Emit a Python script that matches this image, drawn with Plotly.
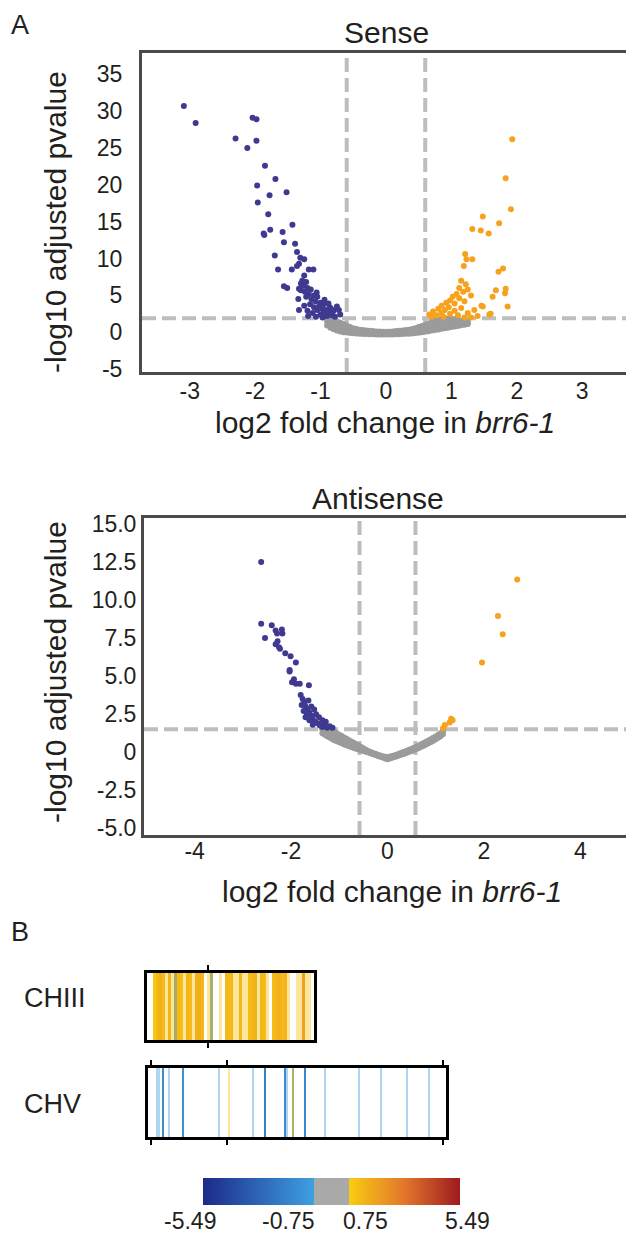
import plotly.graph_objects as go

W, H = 634, 1241
OFF = 8  # the page body adds an 8px offset

# ---------------- Sense volcano data ----------------
sense_blue_x = [-3.09, -2.91, -2.04, -1.98, -2.30, -1.98, -2.12, -1.85, -1.69, -1.97, -1.52, -1.78, -1.96, -1.80,
                -1.43, -1.77, -1.87, -1.86, -1.58, -1.56, -1.39, -1.70, -1.36, -1.31, -1.25, -1.33, -1.36, -1.44,
                -1.65, -1.18, -1.11, -1.25, -1.56, -1.51, -1.33, -1.30, -1.34, -1.33, -1.19,
                -1.28, -1.22, -1.26, -1.20, -1.24, -1.15, -1.18, -1.10, -1.22, -1.14, -1.05, -1.08, -1.00, -1.16,
                -1.02, -0.95, -1.10, -0.98, -0.92, -1.05, -0.88, -0.95, -0.85, -1.00, -0.90, -0.82, -0.80, -0.86,
                -0.78, -1.12, -1.25, -1.20, -0.94, -0.88, -0.84, -1.07, -1.30, -1.06, -0.97, -0.72, -0.70, -0.75]
sense_blue_y = [30.7, 28.4, 29.1, 28.9, 26.3, 26.0, 25.0, 22.6, 20.8, 19.9, 19.0, 18.6, 17.6, 16.0,
                14.6, 13.9, 13.4, 13.2, 13.6, 12.2, 12.0, 10.4, 10.9, 10.1, 9.9, 9.3, 9.0, 8.5,
                8.5, 8.5, 8.5, 7.7, 6.25, 6.0, 5.9, 5.7, 4.5, 3.0, 2.2,
                7.0, 6.8, 6.3, 6.0, 5.5, 5.8, 5.2, 5.0, 4.8, 4.5, 4.8, 4.2, 4.0, 3.8,
                3.6, 3.8, 3.4, 3.2, 3.0, 3.0, 2.8, 2.6, 2.5, 2.4, 2.2, 2.3, 2.9, 3.4,
                2.1, 2.6, 3.6, 2.9, 4.4, 3.9, 3.2, 2.1, 6.6, 5.4, 2.0, 3.0, 2.4, 3.5]

sense_orange_x = [1.93, 1.83, 1.91, 1.73, 1.48, 1.32, 1.45, 1.57, 1.21, 1.23, 1.32, 1.19, 1.79, 1.72, 1.68,
                  1.83, 1.82, 1.63, 1.86, 1.48, 1.60, 1.58, 1.46,
                  1.15, 1.22, 1.12, 1.25, 1.18, 1.08, 1.30, 1.02, 1.12, 0.98, 1.20, 0.92, 1.05, 0.85, 0.96,
                  1.15, 0.80, 0.90, 1.05, 0.72, 0.85, 0.98, 0.66, 0.78, 1.10, 0.70, 1.25, 1.35, 1.40, 1.30,
                  1.20, 0.88]
sense_orange_y = [26.2, 20.9, 16.7, 14.8, 15.7, 14.0, 13.8, 13.4, 10.6, 9.9, 9.9, 9.0, 8.65, 8.2, 5.7,
                  5.9, 5.3, 4.8, 3.5, 3.5, 2.5, 2.4, 3.6,
                  7.0, 6.5, 6.0, 5.8, 5.5, 5.2, 5.0, 4.8, 4.6, 4.3, 4.2, 4.0, 3.9, 3.6, 3.4,
                  3.3, 3.2, 3.0, 2.9, 2.8, 2.6, 2.5, 2.4, 2.3, 2.3, 2.1, 2.6, 3.0, 2.2, 2.0,
                  2.0, 2.1]

sense_gray_x = [-0.90, -0.85, -0.80, -0.75, -0.70, -0.65, -0.60, -0.55, -0.50, -0.45, -0.40, -0.35, -0.30,
                -0.25, -0.20, -0.15, -0.10, -0.05, 0.00, 0.05, 0.10, 0.15, 0.20, 0.25, 0.30, 0.35, 0.40,
                0.45, 0.50, 0.55, 0.60, 0.65, 0.70, 0.75, 0.80, 0.85, 0.90, 0.95, 1.00, 1.05, 1.10, 1.15,
                1.20, 1.25]
sense_gray_low = [0.9, 0.6, 0.4, 0.25, 0.1, 0.0, -0.05, -0.1, -0.15, -0.18, -0.2, -0.23, -0.25,
                  -0.27, -0.28, -0.3, -0.3, -0.3, -0.3, -0.3, -0.3, -0.28, -0.27, -0.25, -0.22, -0.2, -0.17,
                  -0.12, -0.06, 0.0, 0.06, 0.14, 0.22, 0.3, 0.38, 0.46, 0.54, 0.62, 0.7, 0.78, 0.86, 0.94,
                  1.0, 1.1]
sense_gray_mid = [1.4, 1.2, 1.05, 0.9, 0.7, 0.55, 0.45, 0.3, 0.2, 0.13, 0.08, 0.03, 0.0,
                  -0.03, -0.06, -0.1, -0.1, -0.12, -0.12, -0.12, -0.1, -0.07, -0.03, 0.0, 0.04, 0.07, 0.14,
                  0.22, 0.32, 0.42, 0.52, 0.65, 0.78, 0.92, 1.02, 1.12, 1.18, 1.22, 1.25, 1.28, 1.3, 1.3,
                  1.3, 1.25]
sense_gray_high = [1.9, 1.8, 1.7, 1.5, 1.3, 1.1, 0.9, 0.7, 0.55, 0.45, 0.35, 0.3, 0.25,
                   0.2, 0.15, 0.1, 0.1, 0.05, 0.05, 0.05, 0.1, 0.15, 0.2, 0.25, 0.3, 0.35, 0.45,
                   0.55, 0.7, 0.85, 1.0, 1.2, 1.4, 1.6, 1.7, 1.8, 1.85, 1.85, 1.8, 1.75, 1.7, 1.6,
                   1.5, 1.4]

# ---------------- Antisense volcano data ----------------
anti_blue_x = [-2.62, -2.62, -2.54, -2.40, -2.32, -2.19, -2.18, -2.29, -2.32, -2.23, -2.12, -2.01, -1.90, -2.03,
               -2.03, -1.94, -1.98, -1.90, -1.82, -1.63, -2.28, -2.25,
               -1.80, -1.76, -1.72, -1.78, -1.70, -1.66, -1.74, -1.62, -1.67, -1.58, -1.70, -1.55, -1.62,
               -1.50, -1.45, -1.55, -1.40, -1.31, -1.35, -1.14, -1.25, -1.20, -1.48, -1.58, -1.52, -1.42,
               -1.35, -1.28, -1.64]
anti_blue_y = [12.5, 8.45, 7.5, 8.35, 8.0, 8.07, 7.8, 7.8, 7.1, 6.8, 6.5, 6.3, 5.9, 5.4,
               5.3, 4.8, 4.6, 4.5, 4.5, 4.4, 7.3, 6.9,
               3.75, 3.5, 3.3, 3.1, 3.0, 2.8, 2.7, 2.6, 2.5, 2.4, 2.3, 2.2, 2.1,
               2.0, 1.9, 1.8, 1.75, 1.9, 1.65, 1.6, 1.6, 1.7, 2.5, 3.0, 2.8, 2.3,
               2.1, 2.0, 3.4]

anti_orange_x = [2.69, 2.29, 2.39, 1.96, 1.35, 1.29, 1.19, 1.15, 1.32]
anti_orange_y = [11.35, 8.95, 7.76, 5.9, 2.1, 1.95, 1.78, 1.56, 2.2]

anti_gray_x = [-1.35, -1.30, -1.25, -1.20, -1.15, -1.10, -1.05, -1.00, -0.95, -0.90, -0.85, -0.80, -0.75,
               -0.70, -0.65, -0.60, -0.55, -0.50, -0.45, -0.40, -0.35, -0.30, -0.25, -0.20, -0.15, -0.10,
               -0.05, 0.00, 0.05, 0.10, 0.15, 0.20, 0.25, 0.30, 0.35, 0.40, 0.45, 0.50, 0.55, 0.60, 0.65,
               0.70, 0.75, 0.80, 0.85, 0.90, 0.95, 1.00, 1.05, 1.10, 1.15]
anti_gray_low = [1.25, 1.15, 1.05, 0.96, 0.87, 0.79, 0.72, 0.65, 0.58, 0.51, 0.45, 0.39, 0.33, 0.27, 0.22,
                 0.17, 0.12, 0.07, 0.02, -0.03, -0.08, -0.14, -0.19, -0.25, -0.3, -0.35, -0.42, -0.47,
                 -0.42, -0.37, -0.32, -0.27, -0.21, -0.16, -0.1, -0.04, 0.02, 0.08, 0.14, 0.21, 0.28, 0.35,
                 0.42, 0.5, 0.58, 0.66, 0.75, 0.84, 0.94, 1.05, 1.17]
anti_gray_mid = [1.50, 1.42, 1.33, 1.24, 1.15, 1.06, 0.98, 0.90, 0.82, 0.74, 0.66, 0.58, 0.50, 0.43, 0.36,
                 0.29, 0.22, 0.15, 0.08, 0.02, -0.04, -0.10, -0.16, -0.22, -0.27, -0.32, -0.36, -0.40,
                 -0.36, -0.31, -0.26, -0.21, -0.15, -0.10, -0.04, 0.02, 0.08, 0.15, 0.22, 0.29, 0.37, 0.45,
                 0.53, 0.62, 0.71, 0.80, 0.90, 1.00, 1.10, 1.22, 1.35]
anti_gray_high = [1.5, 1.5, 1.5, 1.48, 1.42, 1.33, 1.24, 1.15, 1.06, 0.97, 0.88, 0.79, 0.7, 0.61, 0.52,
                  0.43, 0.34, 0.25, 0.16, 0.08, 0.01, -0.05, -0.11, -0.17, -0.22, -0.27, -0.3, -0.33,
                  -0.29, -0.25, -0.2, -0.15, -0.09, -0.03, 0.03, 0.09, 0.15, 0.22, 0.29, 0.36, 0.44, 0.52,
                  0.6, 0.68, 0.76, 0.85, 0.94, 1.03, 1.13, 1.25, 1.4]

sense_fc_cut = [-0.6, 0.6]
sense_p_cut = 1.9
anti_fc_cut = [-0.58, 0.58]
anti_p_cut = 1.5

sense_xticks = [-3, -2, -1, 0, 1, 2, 3]
sense_xtext = ["-3", "-2", "-1", "0", "1", "2", "3"]
sense_yticks = [-5, 0, 5, 10, 15, 20, 25, 30, 35]
sense_ytext = ["-5", "0", "5", "10", "15", "20", "25", "30", "35"]
anti_xticks = [-4, -2, 0, 2, 4]
anti_xtext = ["-4", "-2", "0", "2", "4"]
anti_yticks = [-5, -2.5, 0, 2.5, 5, 7.5, 10, 12.5, 15]
anti_ytext = ["-5.0", "-2.5", "0", "2.5", "5.0", "7.5", "10.0", "12.5", "15.0"]

# ---------------- Chromosome heat strips ----------------
N = None
chiii_fc = [N, N, 0.85, 1.3, 1.5, 1.2, N, 1.4, N, 1.2, 1.3, 1.1, N, 1.4, 1.2, N, 1.5, 1.6, 1.3, N,
            N, 1.0, N, N, N, N, 1.3, 1.2, 1.4, N, N, 1.3, N, N, 1.2, 1.4, 1.5, N, 1.3, 1.2,
            N, N, 1.2, 1.4, 1.5, 1.3, 1.4, N, N, N, N, N, 1.9, N, N, N]
chiii_faint = [N, N, N, N, N, N, 1.0, N, 1.0, -1.0, N, N, 1.0, N, N, 1.0, N, N, N, N,
               1.0, -1.0, N, N, 1.0, N, N, N, N, 1.0, 1.0, N, 1.0, 1.0, N, N, N, 1.0, N, N,
               1.0, N, N, N, N, N, N, 1.0, N, N, 1.0, 1.0, N, 1.0, 1.0, N]
chiii_marks = [19.9]

chv_nbins = 149
chv_bins = [7, 17, 58, 68, 72, 78]
chv_fc = [-1.6, -1.3, -2.0, -1.5, 0.9, -1.7]
chv_faint_bins = [4, 5, 10, 35, 40, 52, 69, 72, 88, 105, 116, 129, 140]
chv_faint_fc = [-1.0, -1.0, -1.0, -1.0, 1.0, -1.0, -1.0, -0.9, -1.0, -1.0, -1.0, -1.0, -1.0]
chv_marks = [1.0, 39.0, 147.0]

cbar_min, cbar_max = -5.49, 5.49
cbar_labels = ["-5.49", "-0.75", "0.75", "5.49"]

# ---------------- styling ----------------
FONT = "Liberation Sans, Arial, Helvetica, sans-serif"
TXT = "#231f20"
FRAME = "#4a4a4a"
BLUE = "#3f3a90"
ORANGE = "#f6a21d"
GRAY = "#9b9b9b"
DASH = "#bdbdbd"

colorscale = [[0.0, "#1c2a88"], [0.4317, "#3ea0e0"], [0.4317, "#a9a9a9"], [0.5683, "#a9a9a9"],
              [0.5683, "#f9cc12"], [0.78, "#e3782a"], [1.0, "#9e1a20"]]


def px(x):
    return (x - OFF) / W


def py(y):
    return 1 - (y - OFF) / H


fig = go.Figure()

# sense
gx = sense_gray_x * 3
gy = sense_gray_low + sense_gray_mid + sense_gray_high
fig.add_trace(go.Scatter(x=gx, y=gy, mode="markers", marker=dict(color=GRAY, size=6),
                         xaxis="x", yaxis="y", hoverinfo="skip", showlegend=False))
fig.add_trace(go.Scatter(x=sense_blue_x, y=sense_blue_y, mode="markers", marker=dict(color=BLUE, size=6),
                         xaxis="x", yaxis="y", showlegend=False))
fig.add_trace(go.Scatter(x=sense_orange_x, y=sense_orange_y, mode="markers", marker=dict(color=ORANGE, size=6),
                         xaxis="x", yaxis="y", showlegend=False))

# antisense
gx2 = anti_gray_x * 3
gy2 = anti_gray_low + anti_gray_mid + anti_gray_high
fig.add_trace(go.Scatter(x=gx2, y=gy2, mode="markers", marker=dict(color=GRAY, size=6),
                         xaxis="x2", yaxis="y2", hoverinfo="skip", showlegend=False))
fig.add_trace(go.Scatter(x=anti_blue_x, y=anti_blue_y, mode="markers", marker=dict(color=BLUE, size=6),
                         xaxis="x2", yaxis="y2", showlegend=False))
fig.add_trace(go.Scatter(x=anti_orange_x, y=anti_orange_y, mode="markers", marker=dict(color=ORANGE, size=6),
                         xaxis="x2", yaxis="y2", showlegend=False))


def strip(n, bins, vals):
    row = [None] * n
    for b, v in zip(bins, vals):
        row[b] = v
    return row


chv_row = strip(chv_nbins, chv_bins, chv_fc)
chv_faint_row = strip(chv_nbins, chv_faint_bins, chv_faint_fc)

cb = dict(orientation="h", x=px(203), xanchor="left", y=py(1178), yanchor="top",
          len=257, lenmode="pixels", thickness=27, thicknessmode="pixels",
          outlinewidth=0, xpad=0, ypad=0, showticklabels=False, ticks="")

fig.add_trace(go.Heatmap(z=[chiii_fc], x=list(range(len(chiii_fc))), y=[0], xaxis="x3", yaxis="y3",
                         colorscale=colorscale, zmin=cbar_min, zmax=cbar_max, showscale=True,
                         colorbar=cb, hoverinfo="skip"))
fig.add_trace(go.Heatmap(z=[chiii_faint], x=list(range(len(chiii_faint))), y=[0], xaxis="x3", yaxis="y3",
                         colorscale=colorscale, zmin=cbar_min, zmax=cbar_max, showscale=False,
                         opacity=0.42, hoverinfo="skip"))
fig.add_trace(go.Heatmap(z=[chv_row], x=list(range(chv_nbins)), y=[0], xaxis="x4", yaxis="y4",
                         colorscale=colorscale, zmin=cbar_min, zmax=cbar_max, showscale=False,
                         hoverinfo="skip"))
fig.add_trace(go.Heatmap(z=[chv_faint_row], x=list(range(chv_nbins)), y=[0], xaxis="x4", yaxis="y4",
                         colorscale=colorscale, zmin=cbar_min, zmax=cbar_max, showscale=False,
                         opacity=0.42, hoverinfo="skip"))

tickfont = dict(family=FONT, size=23, color=TXT)
frame = dict(showline=True, mirror=True, linewidth=3, linecolor=FRAME, showgrid=False, zeroline=False,
             automargin=False)

fig.update_layout(
    width=W, height=H, margin=dict(l=0, r=0, t=0, b=0),
    template="none", paper_bgcolor="white", plot_bgcolor="white",
    font=dict(family=FONT, color=TXT),
    xaxis=dict(domain=[px(142), px(628)], range=[-3.73, 3.7], tickvals=sense_xticks, ticktext=sense_xtext,
               ticks="", ticklabelstandoff=-4, tickfont=tickfont, anchor="y", **frame),
    yaxis=dict(domain=[py(372), py(53)], range=[-5.4, 37.9], tickvals=sense_yticks, ticktext=sense_ytext,
               ticks="outside", ticklen=12, tickcolor="rgba(0,0,0,0)", tickfont=tickfont, anchor="x", **frame),
    xaxis2=dict(domain=[px(144), px(631)], range=[-5.05, 5.05], tickvals=anti_xticks, ticktext=anti_xtext,
                ticks="", ticklabelstandoff=-7, tickfont=tickfont, anchor="y2", **frame),
    yaxis2=dict(domain=[py(835), py(518)], range=[-5.45, 15.4], tickvals=anti_yticks, ticktext=anti_ytext,
                ticks="", tickfont=tickfont, anchor="x2", **frame),
    xaxis3=dict(domain=[px(147), px(314)], range=[-0.5, len(chiii_fc) - 0.5], tickvals=chiii_marks,
                ticks="outside", ticklen=5, tickwidth=2, tickcolor="black", showticklabels=False,
                showline=True, mirror="ticks", linewidth=3, linecolor="black", showgrid=False,
                zeroline=False, automargin=False, anchor="y3"),
    yaxis3=dict(domain=[py(1040), py(973)], range=[-0.5, 0.5], showticklabels=False, ticks="",
                showline=True, mirror=True, linewidth=3, linecolor="black", showgrid=False,
                zeroline=False, automargin=False, anchor="x3"),
    xaxis4=dict(domain=[px(148), px(446)], range=[-0.5, chv_nbins - 0.5], tickvals=chv_marks,
                ticks="outside", ticklen=5, tickwidth=2, tickcolor="black", showticklabels=False,
                showline=True, mirror="ticks", linewidth=3, linecolor="black", showgrid=False,
                zeroline=False, automargin=False, anchor="y4"),
    yaxis4=dict(domain=[py(1137), py(1068)], range=[-0.5, 0.5], showticklabels=False, ticks="",
                showline=True, mirror=True, linewidth=3, linecolor="black", showgrid=False,
                zeroline=False, automargin=False, anchor="x4"),
)

shapes = []
dash = dict(color=DASH, width=4, dash="14px,6px")
for v in sense_fc_cut:
    shapes.append(dict(type="line", xref="x", yref="y domain", x0=v, x1=v, y0=0, y1=1, line=dash, layer="below"))
shapes.append(dict(type="line", xref="x domain", yref="y", x0=0, x1=1, y0=sense_p_cut, y1=sense_p_cut,
                   line=dash, layer="below"))
for v in anti_fc_cut:
    shapes.append(dict(type="line", xref="x2", yref="y2 domain", x0=v, x1=v, y0=0, y1=1, line=dash, layer="below"))
shapes.append(dict(type="line", xref="x2 domain", yref="y2", x0=0, x1=1, y0=anti_p_cut, y1=anti_p_cut,
                   line=dash, layer="below"))
fig.update_layout(shapes=shapes)


def ann(text, x, y, size, angle=0, xanchor="center", yanchor="middle"):
    return dict(text=text, x=px(x), y=py(y), xref="paper", yref="paper", showarrow=False,
                xanchor=xanchor, yanchor=yanchor, textangle=angle,
                font=dict(family=FONT, size=size, color=TXT))


annotations = [
    ann("A", 9, 8, 27, xanchor="left", yanchor="top"),
    ann("Sense", 387, 33, 30),
    ann("-log10 adjusted pvalue", 55, 222, 30, angle=-90),
    ann("log2 fold change in <i>brr6-1</i>", 385, 422, 30),
    ann("Antisense", 378, 498, 30),
    ann("-log10 adjusted pvalue", 55, 672, 30, angle=-90),
    ann("log2 fold change in <i>brr6-1</i>", 392, 891, 30),
    ann("B", 9, 932, 27, xanchor="left"),
    ann("CHIII", 22, 998, 27, xanchor="left"),
    ann("CHV", 22, 1104, 27, xanchor="left"),
]
for lab, xc in zip(cbar_labels, [190, 288, 365, 467]):
    annotations.append(ann(lab, xc, 1221, 23))
fig.update_layout(annotations=annotations)

fig.write_html("out.html")
